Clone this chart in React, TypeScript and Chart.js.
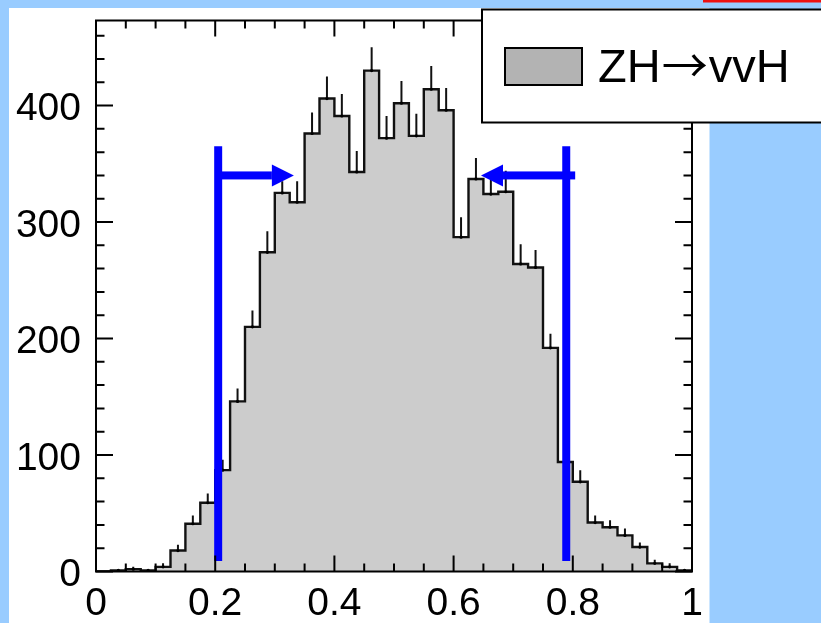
import React, { useEffect, useRef } from "react";
import { Chart, registerables } from "chart.js";

Chart.register(...registerables);

// ---- data ----
const binEdges = [
  0, 0.025, 0.05, 0.075, 0.1, 0.125, 0.15, 0.175, 0.2, 0.225,
  0.25, 0.275, 0.3, 0.325, 0.35, 0.375, 0.4, 0.425, 0.45, 0.475,
  0.5, 0.525, 0.55, 0.575, 0.6, 0.625, 0.65, 0.675, 0.7, 0.725,
  0.75, 0.775, 0.8, 0.825, 0.85, 0.875, 0.9, 0.925, 0.95, 0.975, 1,
];
const counts = [
  0, 1, 2, 1, 4, 18, 41, 59, 87, 146,
  210, 274, 325, 317, 376, 406, 391, 343, 430, 372,
  402, 374, 414, 396, 287, 337, 324, 326, 264, 261,
  192, 94, 77, 42, 38, 31, 21, 7, 4, 1,
];
const errorTops = [
  0, 2, 4, 2, 7, 23, 48, 67, 96, 157,
  224, 292, 335, 335, 394, 425, 410, 361, 450, 391,
  421, 393, 434, 415, 304, 355, 336, 344, 281, 276,
  204, 104, 87, 48, 44, 37, 25, 10, 7, 2,
];
const cutValues = [0.205, 0.789];
const cutLineSpan = [9, 365];
const arrowTails = [0.205, 0.804];
const arrowTips = [0.332, 0.646];
const arrowLevel = 340;
const xTickValues = [0, 0.2, 0.4, 0.6, 0.8, 1];
const yTickValues = [0, 100, 200, 300, 400];
const xRange = [0, 1];
const yRange = [0, 473];
const legendParts = ["ZH", "\u2192", "vvH"];

const FONT = "'Liberation Sans', Arial, Helvetica, sans-serif";
const ARROW_FONT = "'Noto Sans CJK SC', 'DejaVu Sans', sans-serif";

const decorPlugin = {
  id: "decor",
  beforeDraw(chart: any) {
    const ctx = chart.ctx;
    ctx.save();
    ctx.fillStyle = "#99ccff";
    ctx.fillRect(0, 0, chart.width, chart.height);
    ctx.fillStyle = "#ffffff";
    ctx.fillRect(9, 8, 700.5, chart.height - 8);
    ctx.fillStyle = "#ee1111";
    ctx.fillRect(703, 0, chart.width - 703, 2.5);
    ctx.restore();
  },
  afterDatasetsDraw(chart: any) {
    const ctx = chart.ctx;
    const xs = chart.scales.x;
    const ys = chart.scales.y;
    const { left, right, top, bottom } = chart.chartArea;
    ctx.save();
    // frame
    ctx.strokeStyle = "#000";
    ctx.lineWidth = 2;
    ctx.strokeRect(left, top, right - left, bottom - top);
    // inward ticks, x
    ctx.beginPath();
    for (let k = 0; k <= 20; k++) {
      const v = k * 0.05;
      const px = xs.getPixelForValue(v);
      const len = k % 4 === 0 ? 16 : 8;
      ctx.moveTo(px, bottom);
      ctx.lineTo(px, bottom - len);
      ctx.moveTo(px, top);
      ctx.lineTo(px, top + len);
    }
    // inward ticks, y
    for (let k = 0; k <= 23; k++) {
      const v = k * 20;
      if (v > yRange[1]) break;
      const py = ys.getPixelForValue(v);
      const len = k % 5 === 0 ? 17 : 8.5;
      ctx.moveTo(left, py);
      ctx.lineTo(left + len, py);
      ctx.moveTo(right, py);
      ctx.lineTo(right - len, py);
    }
    ctx.stroke();

    // arrows
    ctx.fillStyle = "#0000ff";
    const ay = ys.getPixelForValue(arrowLevel);
    for (let i = 0; i < arrowTips.length; i++) {
      const tail = xs.getPixelForValue(arrowTails[i]);
      const tip = xs.getPixelForValue(arrowTips[i]);
      const dir = tip > tail ? 1 : -1;
      const headLen = 22;
      const base = tip - dir * headLen;
      ctx.fillRect(Math.min(tail, base), ay - 4, Math.abs(base - tail), 8);
      ctx.beginPath();
      ctx.moveTo(tip, ay);
      ctx.lineTo(base, ay - 11);
      ctx.lineTo(base, ay + 11);
      ctx.closePath();
      ctx.fill();
    }
    ctx.restore();
  },
  afterDraw(chart: any) {
    const ctx = chart.ctx;
    ctx.save();
    // legend box
    ctx.fillStyle = "#ffffff";
    ctx.fillRect(482, 9.5, 345, 113);
    ctx.strokeStyle = "#000";
    ctx.lineWidth = 2;
    ctx.strokeRect(482, 9.5, 345, 113);
    ctx.fillStyle = "#b3b3b3";
    ctx.fillRect(505, 48, 77, 37);
    ctx.strokeRect(505, 48, 77, 37);
    ctx.fillStyle = "#000";
    ctx.textBaseline = "alphabetic";
    ctx.textAlign = "left";
    let x = 598;
    const fonts = [`47px ${FONT}`, `46px ${ARROW_FONT}`, `47px ${FONT}`];
    const gaps = [1, 1, 0];
    legendParts.forEach((t, i) => {
      ctx.font = fonts[i];
      ctx.fillText(t, x, 82);
      x += ctx.measureText(t).width + gaps[i];
    });
    ctx.restore();
  },
};

export default function App() {
  const ref = useRef<HTMLCanvasElement | null>(null);

  useEffect(() => {
    if (!ref.current) return;

    const histData: any[] = [{ x: binEdges[0], y: 0 }];
    counts.forEach((c, i) => histData.push({ x: binEdges[i], y: c }));
    histData.push({ x: binEdges[binEdges.length - 1], y: counts[counts.length - 1] });
    histData.push({ x: binEdges[binEdges.length - 1], y: 0 });

    const errData: any[] = [];
    counts.forEach((c, i) => {
      if (errorTops[i] > c) {
        const xc = (binEdges[i] + binEdges[i + 1]) / 2;
        errData.push({ x: xc, y: c });
        errData.push({ x: xc, y: errorTops[i] });
        errData.push({ x: xc, y: null });
      }
    });

    const cutData: any[] = [];
    cutValues.forEach((v) => {
      cutData.push({ x: v, y: cutLineSpan[0] });
      cutData.push({ x: v, y: cutLineSpan[1] });
      cutData.push({ x: v, y: null });
    });

    const chart = new Chart(ref.current, {
      type: "line",
      data: {
        datasets: [
          {
            data: cutData,
            borderColor: "#0000ff",
            borderWidth: 8,
            borderCapStyle: "butt",
            pointRadius: 0,
            spanGaps: false,
            fill: false,
            order: 0,
          } as any,
          {
            data: errData,
            borderColor: "#111",
            borderWidth: 2,
            pointRadius: (c: any) => (c.dataIndex % 3 === 0 ? 1.6 : 0),
            pointBackgroundColor: "#000",
            pointBorderWidth: 0,
            spanGaps: false,
            fill: false,
            order: 1,
          } as any,
          {
            data: histData,
            stepped: "before",
            borderColor: "#111",
            borderWidth: 2.4,
            backgroundColor: "#cccccc",
            fill: "origin",
            pointRadius: 0,
            order: 2,
          } as any,
        ],
      },
      options: {
        responsive: false,
        animation: false,
        events: [],
        layout: { padding: { top: 20.5, right: 129, bottom: 0, left: 0 } },
        plugins: {
          legend: { display: false },
          tooltip: { enabled: false },
        },
        scales: {
          x: {
            type: "linear",
            min: xRange[0],
            max: xRange[1],
            grid: { display: false, drawTicks: false },
            border: { display: false },
            afterBuildTicks: (s: any) => {
              s.ticks = xTickValues.map((v) => ({ value: v }));
            },
            afterFit: (s: any) => {
              s.height = 51.5;
            },
            ticks: {
              color: "#000",
              padding: 9,
              maxRotation: 0,
              autoSkip: false,
              callback: (v: any) => String(v),
              font: { family: FONT, size: 39 },
            },
          },
          y: {
            type: "linear",
            min: yRange[0],
            max: yRange[1],
            grid: { display: false, drawTicks: false },
            border: { display: false },
            afterBuildTicks: (s: any) => {
              s.ticks = yTickValues.map((v) => ({ value: v }));
            },
            afterFit: (s: any) => {
              s.width = 96;
            },
            ticks: {
              color: "#000",
              padding: 15,
              labelOffset: 4,
              autoSkip: false,
              callback: (v: any) => String(v),
              font: { family: FONT, size: 39, lineHeight: 0.1 },
            },
          },
        },
      },
      plugins: [decorPlugin],
    } as any);

    return () => chart.destroy();
  }, []);

  return (
    <div style={{ position: "absolute", left: 0, top: 0, width: 821, height: 623, overflow: "hidden" }}>
      <canvas ref={ref} width={821} height={623} style={{ display: "block" }} />
    </div>
  );
}
